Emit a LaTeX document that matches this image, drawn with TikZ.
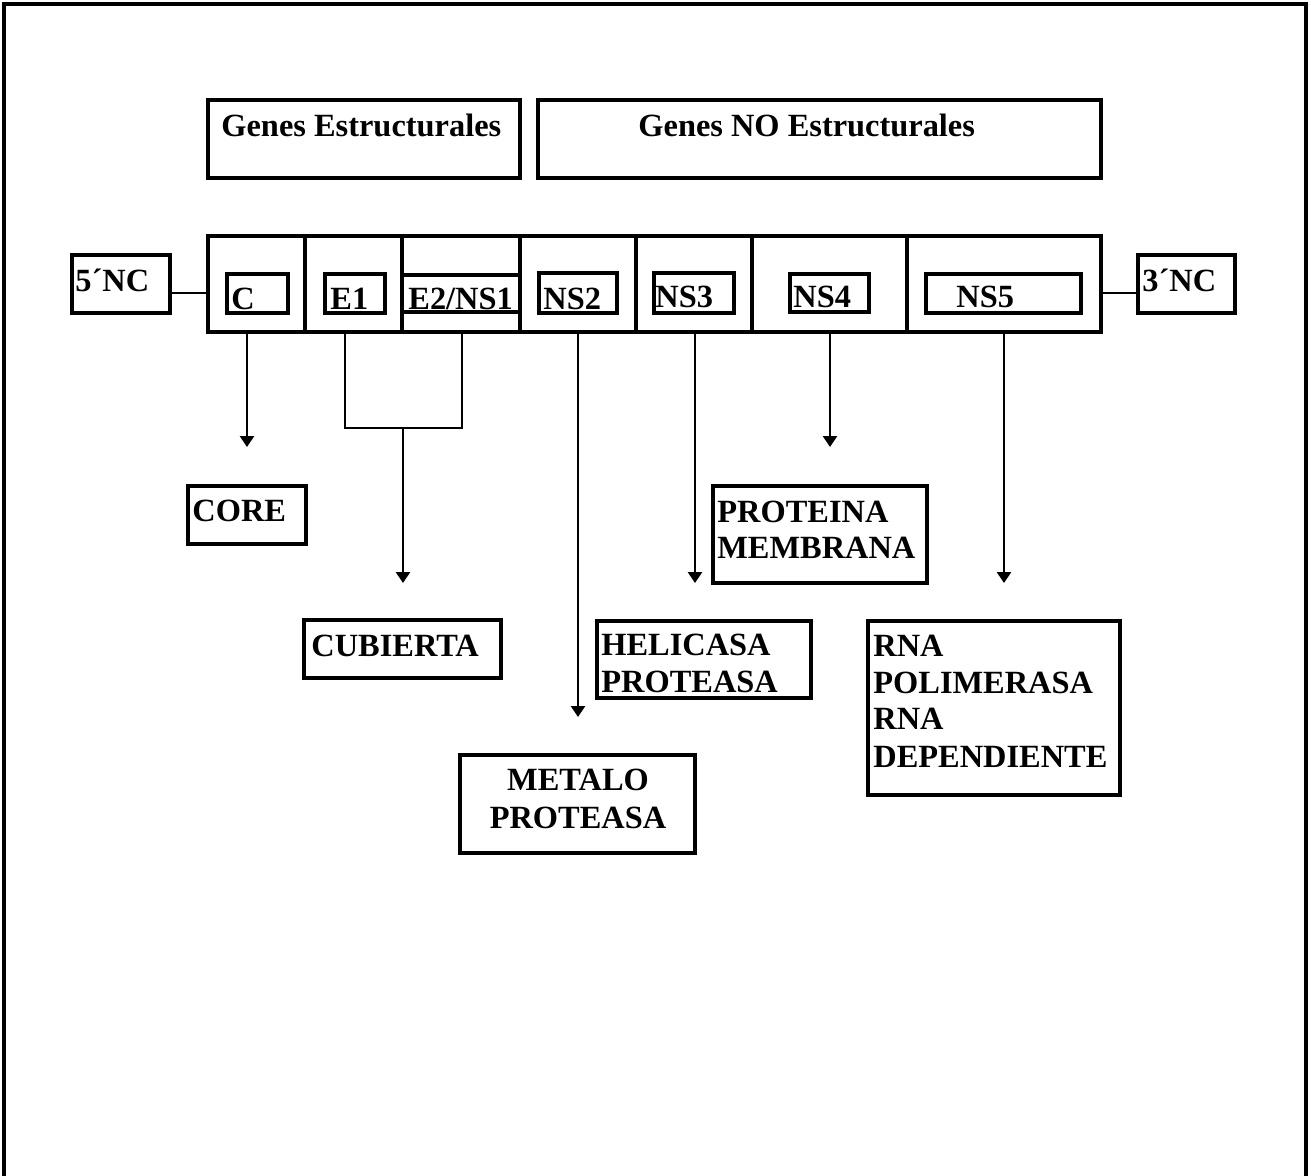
\documentclass[tikz,border=0pt]{standalone}
\usepackage{fontspec}
\setmainfont{Liberation Serif}
\usetikzlibrary{arrows.meta}
\newcommand\mybox[5]{\node[box, minimum width={(#4-#2)*0.5pt}, minimum height={(#5-#3)*0.5pt}] (#1) at ({(#2+#4)/2},{(#3+#5)/2}) {};}
\begin{document}
\begin{tikzpicture}[x=0.5pt,y=-0.5pt,
 box/.style={draw, line width=1.6pt, inner sep=0pt, rectangle},
 txt/.style={inner sep=0pt, font=\bfseries\fontsize{16.2}{18.5}\selectfont},
 arr/.style={line width=1.4pt, -{Triangle[width=7pt,length=5.5pt]}},
 ln/.style={line width=1.4pt}]
\useasboundingbox (0,0) rectangle (1311,1176);
% outer frame
\draw[line width=2.2pt] (4,1176) -- (4,4) -- (1306,4) -- (1306,1176);
% header boxes
\mybox{hdS}{208}{100}{520}{178}
\mybox{hdN}{538}{100}{1101}{178}
\node[txt, anchor=base west] (tS) at (221,137) {Genes Estructurales};
\node[txt, anchor=base west] (tN) at (638,137) {Genes NO Estructurales};
% genome row cells
\mybox{cellC}{208}{236}{305}{332}
\mybox{cellE1}{305}{236}{402}{332}
\mybox{cellE2}{402}{236}{520}{332}
\mybox{cellNSa}{520}{236}{636}{332}
\mybox{cellNSb}{636}{236}{752}{332}
\mybox{cellNSc}{752}{236}{907}{332}
\mybox{cellNSd}{907}{236}{1101}{332}
% gene label boxes
\mybox{bC}{227}{274}{288}{313}
\mybox{bE1}{325}{274}{385}{313}
\mybox{bE2}{402}{275}{520}{312}
\mybox{bNS2}{539}{273}{617}{313}
\mybox{bNS3}{654}{273}{734}{313}
\mybox{bNS4}{790}{274}{869}{312}
\mybox{bNS5}{926}{274}{1081}{313}
\node[txt, anchor=base west] at (231,310) {C};
\node[txt, anchor=base west] at (330,310) {E1};
\node[txt, anchor=base west] at (408,310) {E2/NS1};
\node[txt, anchor=base west] at (543,310) {NS2};
\node[txt, anchor=base west] at (655,308) {NS3};
\node[txt, anchor=base west] at (793,308) {NS4};
\node[txt, anchor=base west] at (956,308) {NS5};
% non-coding ends
\mybox{nc5}{72}{255}{170}{313}
\mybox{nc3}{1138}{255}{1235}{313}
\node[txt, anchor=base west] at (75,292) {5´NC};
\node[txt, anchor=base west] at (1142,292) {3´NC};
\coordinate (j) at (0,293);
\draw[ln] (nc5.east |- j) -- (cellC.west |- j);
\draw[ln] (cellNSd.east |- j) -- (nc3.west |- j);
% product boxes
\mybox{core}{188}{486}{306}{544}
\node[txt, anchor=base west] at (192,521) {CORE};
\mybox{cub}{304}{620}{501}{678}
\node[txt, anchor=base west] at (311,656) {CUBIERTA};
\mybox{met}{460}{755}{695}{853}
\node[txt, anchor=base] at (578,790) {METALO};
\node[txt, anchor=base] at (578,828) {PROTEASA};
\mybox{mem}{713}{486}{927}{583}
\node[txt, anchor=base west] at (717,522) {PROTEINA};
\node[txt, anchor=base west] at (717,558) {MEMBRANA};
\mybox{hel}{597}{621}{811}{698}
\node[txt, anchor=base west] at (601,655) {HELICASA};
\node[txt, anchor=base west] at (601,692) {PROTEASA};
\mybox{rna}{868}{621}{1120}{795}
\node[txt, anchor=base west] at (873,656) {RNA};
\node[txt, anchor=base west] at (873,693) {POLIMERASA};
\node[txt, anchor=base west] at (873,729) {RNA};
\node[txt, anchor=base west] at (873,767) {DEPENDIENTE};
% connectors
\coordinate (tipC) at (247,447);
\draw[arr] (tipC |- cellC.south) -- (tipC);
\coordinate (brL) at (345,428);
\coordinate (brR) at (462,428);
\draw[ln] (brL |- cellE1.south) -- (brL) -- (brR) -- (brR |- cellE2.south);
\coordinate (tipCub) at (403,583);
\draw[arr] (tipCub |- brL) -- (tipCub);
\coordinate (tipNS2) at (578,717);
\draw[arr] (tipNS2 |- cellNSa.south) -- (tipNS2);
\coordinate (tipNS3) at (695,583);
\draw[arr] (tipNS3 |- cellNSb.south) -- (tipNS3);
\coordinate (tipNS4) at (830,447);
\draw[arr] (tipNS4 |- cellNSc.south) -- (tipNS4);
\coordinate (tipNS5) at (1004,583);
\draw[arr] (tipNS5 |- cellNSd.south) -- (tipNS5);
\end{tikzpicture}
\end{document}
